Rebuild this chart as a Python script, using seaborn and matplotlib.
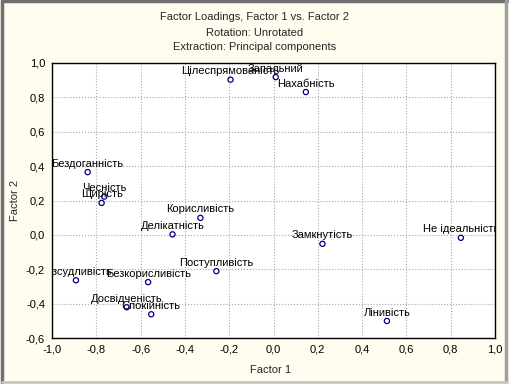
#___________________________________________________________________________________________________________________________________________
# Required Modules
import matplotlib
matplotlib.use("Agg")
import matplotlib.pyplot as plt
import matplotlib.ticker as mticker
from matplotlib.lines import Line2D
import pandas as pd
import seaborn as sns
#___________________________________________________________________________________________________________________________________________
# Data: factor loadings
traits = ['Бездоганність', 'Чесність', 'Щирість', 'Корисливість', 'Цілеспрямованість',
          'Запальний', 'Нахабність', 'Делікатність', 'Поступливість', 'Безкорисливість',
          'Розсудливість', 'Досвідченість', 'Спокійність', 'Замкнутість',
          'Не ідеальність', 'Лінивість']
factor1 = [-0.839, -0.764, -0.776, -0.330, -0.194, 0.010, 0.146, -0.456, -0.258, -0.566,
           -0.892, -0.663, -0.552, 0.221, 0.846, 0.512]
factor2 = [0.365, 0.223, 0.186, 0.099, 0.903, 0.918, 0.831, 0.003, -0.211, -0.275,
           -0.264, -0.421, -0.462, -0.052, -0.017, -0.501]

x_ticks = [-1.0, -0.8, -0.6, -0.4, -0.2, 0.0, 0.2, 0.4, 0.6, 0.8, 1.0]
y_ticks = [-0.6, -0.4, -0.2, 0.0, 0.2, 0.4, 0.6, 0.8, 1.0]

loadings = pd.DataFrame({'Trait': traits, 'Factor 1': factor1, 'Factor 2': factor2})
#___________________________________________________________________________________________________________________________________________
# PLOTTING : ( SCATTER )
sns.set_style('white')
plt.rcParams['font.family'] = ['Liberation Sans', 'DejaVu Sans']

fig = plt.figure(figsize=(5.09, 3.84), dpi=100)
fig.patch.set_facecolor('#fffcf0')
ax = fig.add_axes([52 / 509, 46 / 384, 443 / 509, 275 / 384])
ax.set_facecolor('white')

sns.scatterplot(data=loadings, x='Factor 1', y='Factor 2', ax=ax, marker='o',
                facecolors='none', edgecolor='#000080', s=14, linewidth=0.9, zorder=3)

for _, row in loadings.iterrows():
    ax.annotate(row['Trait'], (row['Factor 1'], row['Factor 2']), xytext=(0, 2.5),
                textcoords='offset points', ha='center', va='bottom', fontsize=8,
                color='black', clip_on=True, annotation_clip=False, zorder=4)

ax.set_xlim(-1.0, 1.0)
ax.set_ylim(-0.6, 1.0)
ax.set_xticks(x_ticks)
ax.set_yticks(y_ticks)
comma = mticker.FuncFormatter(lambda v, p: f'{v:.1f}'.replace('.', ','))
ax.xaxis.set_major_formatter(comma)
ax.yaxis.set_major_formatter(comma)
ax.tick_params(axis='both', length=0, labelsize=8, colors='black')
ax.tick_params(axis='x', pad=5)
ax.tick_params(axis='y', pad=5)
ax.grid(True, linestyle=':', color='#a8a8a8', linewidth=0.8)
for side in ax.spines.values():
    side.set_color('black')
    side.set_linewidth(1.0)

ax.set_xlabel('')
ax.set_ylabel('')
fig.text(271 / 509, 1 - 370 / 384, 'Factor 1', ha='center', va='center', fontsize=8)
fig.text(15 / 509, 1 - 200 / 384, 'Factor 2', ha='center', va='center', fontsize=8, rotation=90)

fig.text(255 / 509, 1 - 17 / 384, 'Factor Loadings, Factor 1 vs. Factor 2', ha='center', va='center', fontsize=8)
fig.text(255 / 509, 1 - 33 / 384, 'Rotation: Unrotated', ha='center', va='center', fontsize=8)
fig.text(255 / 509, 1 - 47 / 384, 'Extraction: Principal components', ha='center', va='center', fontsize=8)

# window frame
fig.add_artist(Line2D([0.003, 0.003], [0.003, 0.997], color='#707070', linewidth=2.5, transform=fig.transFigure))
fig.add_artist(Line2D([0.003, 0.997], [0.997, 0.997], color='#707070', linewidth=2.5, transform=fig.transFigure))
fig.add_artist(Line2D([0.995, 0.995], [0.003, 0.997], color='#a0a0a0', linewidth=2.5, transform=fig.transFigure))
fig.add_artist(Line2D([0.003, 0.997], [0.006, 0.006], color='#c8c8c8', linewidth=2.0, transform=fig.transFigure))

fig.savefig('out.png', dpi=100, facecolor=fig.get_facecolor())
#___________________________________________________________________________________________________________________________________________
